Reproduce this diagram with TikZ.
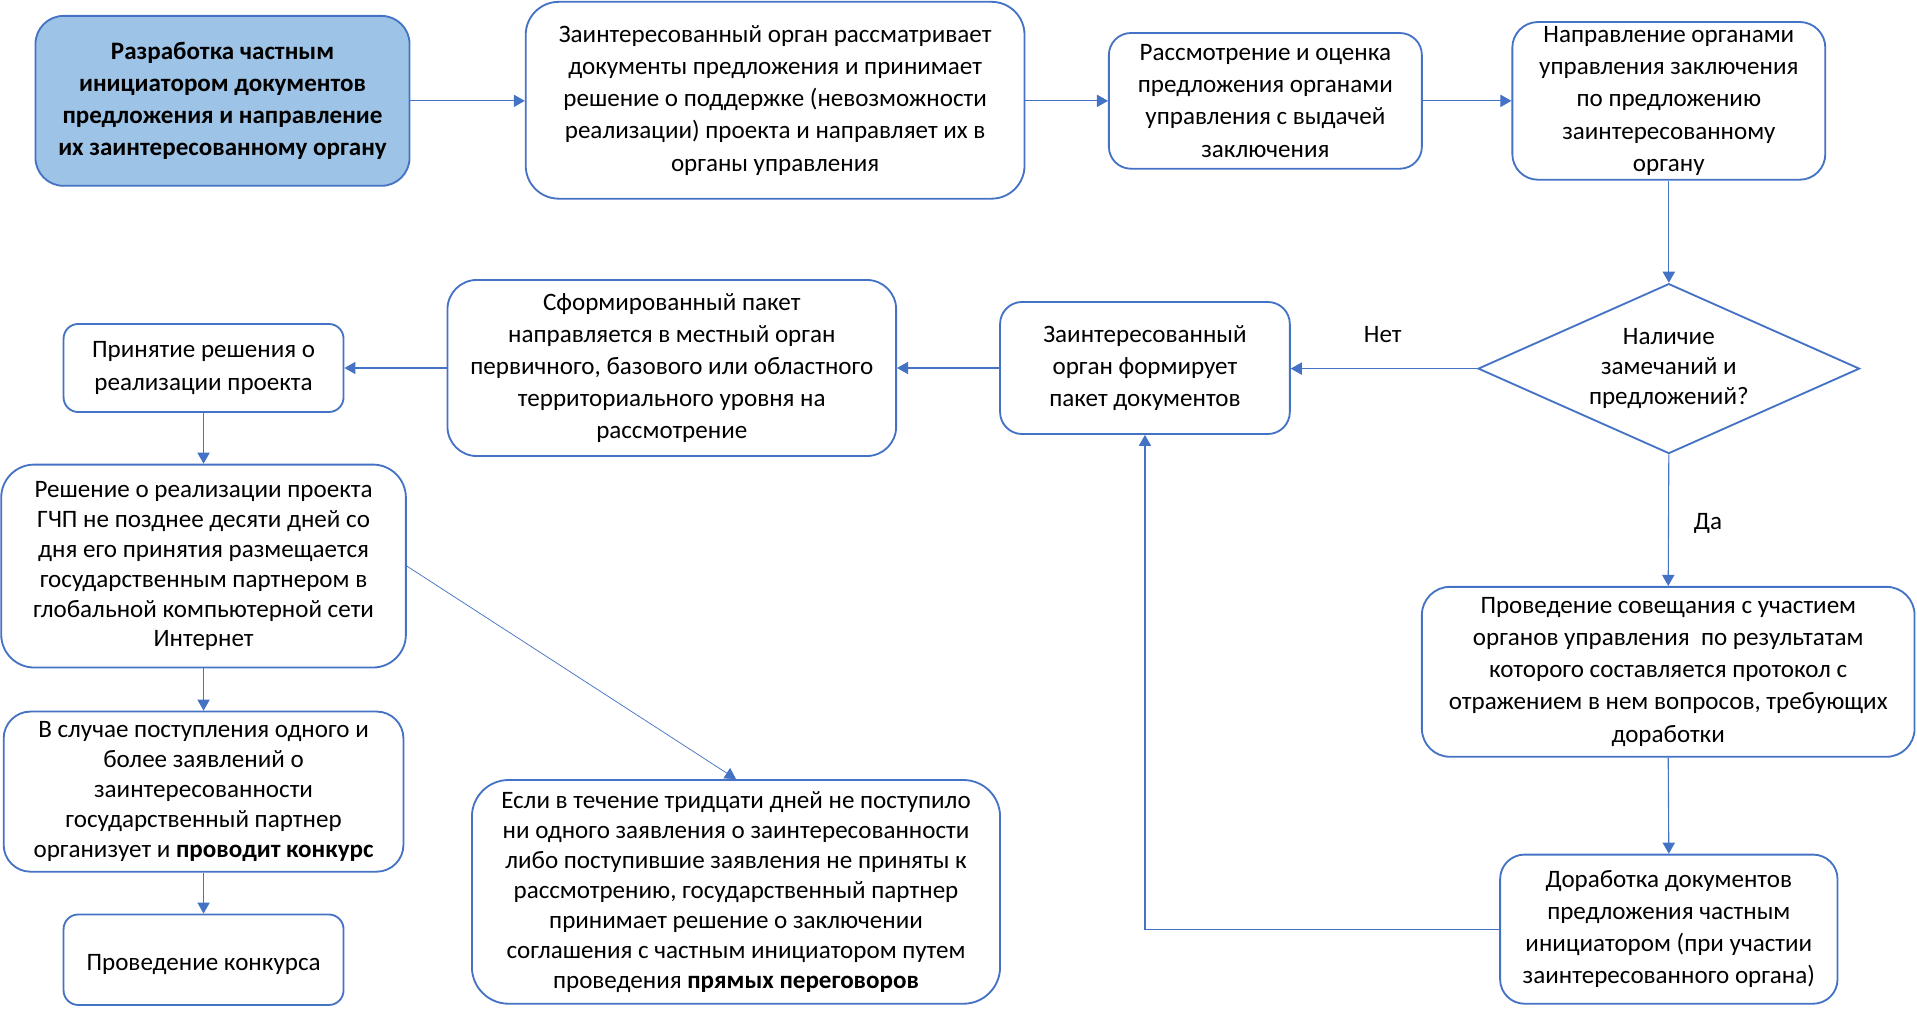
\documentclass[tikz,border=0pt]{standalone}
\usepackage{fontspec}
\setmainfont{Carlito}
\usetikzlibrary{arrows.meta,shapes.geometric}
\definecolor{bl}{HTML}{4472C4}
\definecolor{fillbl}{HTML}{9DC3E6}
\begin{document}
\begin{tikzpicture}[x=1pt,y=-1pt,
 box/.style={draw=bl, line width=1.5pt, align=center, inner sep=0pt, font=\fontsize{20.5}{26.3}\selectfont, execute at begin node={\rule{0pt}{21pt}}},
 tight/.style={font=\fontsize{20.5}{24.5}\selectfont},
 conn/.style={draw=bl, line width=0.9pt, -{Triangle[length=9pt,width=10pt]}},
 lbl/.style={font=\fontsize{20.5}{24}\selectfont, inner sep=0pt}]
\useasboundingbox (0,0) rectangle (1568,829.4);

\node[box, fill=fillbl, rounded corners=23pt, minimum width=306pt, minimum height=139pt, font=\fontsize{20.5}{26.3}\selectfont\bfseries] (A) at (182,82.5)
 {Разработка частным\\инициатором документов\\предложения и направление\\их заинтересованному органу};
\node[box, rounded corners=27pt, minimum width=408pt, minimum height=161pt] (B) at (634,82)
 {Заинтересованный орган рассматривает\\документы предложения и принимает\\решение о поддержке (невозможности\\реализации) проекта и направляет их в\\органы управления};
\node[box, rounded corners=18pt, minimum width=256pt, minimum height=111pt] (C) at (1035,82.5)
 {Рассмотрение и оценка\\предложения органами\\управления с выдачей\\заключения};
\node[box, rounded corners=21pt, minimum width=256pt, minimum height=129pt] (D) at (1365,82.5)
 {Направление органами\\управления заключения\\по предложению\\заинтересованному\\органу};

\node[draw=bl, line width=1.5pt, diamond, minimum width=312pt, minimum height=139pt, inner sep=0pt] (dia) at (1365,301.5) {};
\node[lbl, tight, align=center, execute at begin node={\rule{0pt}{25pt}}] (diat) at (1365,301.5) {Наличие\\замечаний и\\предложений?};

\node[box, rounded corners=18pt, minimum width=237pt, minimum height=108pt] (E) at (936.5,301)
 {Заинтересованный\\орган формирует\\пакет документов};
\node[box, rounded corners=24pt, minimum width=367pt, minimum height=144pt] (F) at (549.5,301)
 {Сформированный пакет\\направляется в местный орган\\первичного, базового или областного\\территориального уровня на\\рассмотрение};
\node[box, rounded corners=12pt, minimum width=229pt, minimum height=72pt] (G) at (166.5,301)
 {Принятие решения о\\реализации проекта};
\node[box, tight, rounded corners=27pt, minimum width=331pt, minimum height=166pt] (H) at (166.5,463)
 {Решение о реализации проекта\\ГЧП не позднее десяти дней со\\дня его принятия размещается\\государственным партнером в\\глобальной компьютерной сети\\Интернет};
\node[box, tight, rounded corners=22pt, minimum width=327pt, minimum height=131pt] (I) at (166.5,647.5)
 {В случае поступления одного и\\более заявлений о\\заинтересованности\\государственный партнер\\организует и \textbf{проводит конкурс}};
\node[box, rounded corners=12pt, minimum width=229pt, minimum height=74pt] (J) at (166.5,785)
 {Проведение конкурса};
\node[box, tight, rounded corners=30pt, minimum width=432pt, minimum height=183pt] (K) at (602,729.5)
 {Если в течение тридцати дней не поступило\\ни одного заявления о заинтересованности\\либо поступившие заявления не приняты к\\рассмотрению, государственный партнер\\принимает решение о заключении\\соглашения с частным инициатором путем\\проведения \textbf{прямых переговоров}};
\node[box, rounded corners=23pt, minimum width=403pt, minimum height=139pt] (L) at (1364.5,549.5)
 {Проведение совещания с участием\\органов управления\ \ по результатам\\которого составляется протокол с\\отражением в нем вопросов, требующих\\доработки};
\node[box, rounded corners=20pt, minimum width=276pt, minimum height=122pt] (M) at (1365,760)
 {Доработка документов\\предложения частным\\инициатором (при участии\\заинтересованного органа)};

\node[lbl] (net) at (1131,274) {Нет};
\node[lbl] (da) at (1397,428) {Да};

\draw[conn] (A.east) -- (A.east -| B.west);
\draw[conn] (B.east |- C.west) -- (C.west);
\draw[conn] (C.east) -- (D.west);
\draw[conn] (D.south) -- (dia.north);
\draw[conn] (dia.west) -- (dia.west -| E.east);
\draw[conn] (E.west) -- (E.west -| F.east);
\draw[conn] (F.west) -- (F.west -| G.east);
\draw[conn] (G.south) -- (H.north);
\draw[conn] (H.south) -- (I.north);
\draw[conn] (I.south) -- (J.north);
\draw[conn, line width=0.6pt] (H.east) -- (K.north);
\draw[conn] (dia.south) -- (L.north);
\draw[conn] (L.south) -- (M.north);
\draw[conn] (M.west) -| (E.south);
\end{tikzpicture}
\end{document}
